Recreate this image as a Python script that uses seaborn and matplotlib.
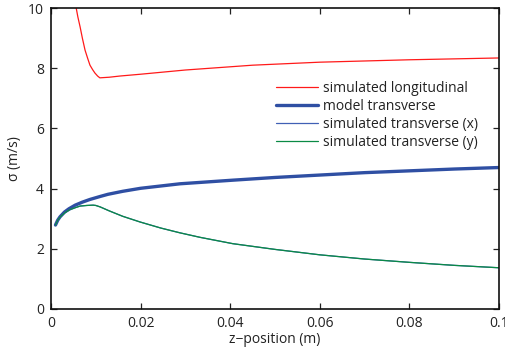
import matplotlib
matplotlib.use("Agg")
import matplotlib.pyplot as plt
import seaborn as sns

# --- data ---
z_long = [0.0055, 0.006, 0.0065, 0.007, 0.0076, 0.0082, 0.0087, 0.0093, 0.0098, 0.0104, 0.0109, 0.013, 0.0154, 0.02, 0.03, 0.045, 0.06, 0.08, 0.1]
s_long = [10.1, 9.7, 9.37, 9.0, 8.6, 8.32, 8.1, 7.95, 7.84, 7.74, 7.68, 7.7, 7.74, 7.8, 7.94, 8.1, 8.2, 8.28, 8.34]

z_model = [0.001, 0.0015, 0.002, 0.003, 0.004, 0.0054, 0.007, 0.0087, 0.011, 0.0127, 0.016, 0.02, 0.0288, 0.0406, 0.05, 0.06, 0.07, 0.08, 0.09, 0.1]
s_model = [2.79, 2.95, 3.06, 3.22, 3.33, 3.45, 3.55, 3.64, 3.74, 3.81, 3.91, 4.01, 4.16, 4.28, 4.37, 4.45, 4.53, 4.59, 4.65, 4.7]

z_simx = [0.001, 0.0015, 0.002, 0.0031, 0.0042, 0.0055, 0.0065, 0.008, 0.0094, 0.01, 0.011, 0.013, 0.0160, 0.0199, 0.0245, 0.0288, 0.0333, 0.0406, 0.05, 0.06, 0.07, 0.08, 0.09, 0.1]
s_simx = [2.79, 2.95, 3.04, 3.19, 3.29, 3.37, 3.42, 3.44, 3.45, 3.44, 3.39, 3.26, 3.08, 2.89, 2.69, 2.53, 2.38, 2.17, 1.98, 1.8, 1.66, 1.55, 1.45, 1.37]
z_simy = z_simx
s_simy = [2.79, 2.95, 3.05, 3.2, 3.3, 3.37, 3.42, 3.44, 3.45, 3.44, 3.39, 3.26, 3.08, 2.89, 2.69, 2.53, 2.38, 2.17, 1.98, 1.8, 1.66, 1.55, 1.45, 1.37]

labels = ["simulated longitudinal", "model transverse", "simulated transverse (x)", "simulated transverse (y)"]
x_ticks = [0, 0.02, 0.04, 0.06, 0.08, 0.1]
x_ticklabels = ["0", "0.02", "0.04", "0.06", "0.08", "0.1"]
y_ticks = [0, 2, 4, 6, 8, 10]

sns.set_theme(style="white")
plt.rcParams['font.family'] = ['Open Sans', 'DejaVu Sans']

fig = plt.figure(figsize=(5.06, 3.56), dpi=100)
ax = fig.add_axes([51/506, 47/356, 448/506, 301/356])

sns.lineplot(x=z_long, y=s_long, ax=ax, color="#ff1a1a", lw=0.9, label=labels[0])
sns.lineplot(x=z_model, y=s_model, ax=ax, color="#2f4fa3", lw=2.4, label=labels[1])
sns.lineplot(x=z_simx, y=s_simx, ax=ax, color="#4060b5", lw=0.9, label=labels[2])
sns.lineplot(x=z_simy, y=s_simy, ax=ax, color="#0a8a45", lw=0.9, label=labels[3])

ax.set_xlim(0, 0.1)
ax.set_ylim(0, 10)
ax.set_xticks(x_ticks)
ax.set_xticklabels(x_ticklabels)
ax.set_yticks(y_ticks)
ax.tick_params(direction="in", length=4, width=0.9, color="#222222", labelsize=10,
               top=True, right=True, bottom=True, left=True, labelcolor="#222222", pad=5)
for sp in ax.spines.values():
    sp.set_visible(True)
    sp.set_color("#111111")
    sp.set_linewidth(1.2)
ax.set_xlabel("z\u2212position (m)", fontsize=10, color="#222222", labelpad=1)
ax.set_ylabel("\u03c3 (m/s)", fontsize=10, color="#222222", labelpad=4)

leg = ax.legend(loc="upper left", bbox_to_anchor=(0.49, 0.775), frameon=False, fontsize=10,
                handlelength=3.0, handletextpad=0.4, labelspacing=0.2, borderaxespad=0)
for t in leg.get_texts():
    t.set_color("#222222")

fig.savefig("out.png", dpi=100)
